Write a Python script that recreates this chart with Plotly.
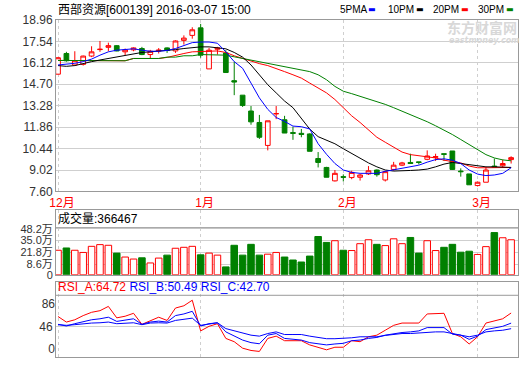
import plotly.graph_objects as go

# ---------------- data ----------------
idx = list(range(55))
month_pos = [0, 17, 34, 50]
month_labels = ['12月', '1月', '2月', '3月']

opens = [15.37, 16.74, 15.98, 16.02, 16.57, 17.00, 17.15, 17.26, 16.85, 16.98,
         17.07, 16.67, 16.90, 17.11, 16.91, 17.61, 17.94, 18.44, 15.72, 17.02,
         16.78, 14.94, 13.98, 12.93, 12.17, 10.65, 12.74, 12.35, 11.50, 11.45,
         11.41, 9.78, 9.19, 8.30, 8.58, 8.52, 8.54, 8.76, 9.02, 8.36,
         9.06, 9.34, 9.52, 9.56, 9.73, 9.86, 10.10, 10.28, 8.95, 8.76,
         7.99, 8.21, 9.28, 9.30, 9.71]
highs = [16.50, 16.85, 16.89, 16.60, 17.22, 17.57, 17.46, 17.30, 17.07, 17.15,
         17.18, 16.98, 17.10, 17.15, 17.61, 17.94, 18.48, 18.70, 17.11, 17.18,
         16.96, 16.20, 13.98, 13.26, 12.67, 12.28, 13.26, 12.61, 11.89, 11.74,
         11.45, 10.21, 9.23, 9.02, 8.73, 8.97, 8.76, 9.28, 9.06, 8.95,
         9.56, 9.56, 10.10, 9.56, 10.32, 10.10, 10.10, 10.28, 9.13, 8.76,
         8.26, 9.23, 9.78, 9.71, 9.93]
lows = [15.35, 16.20, 15.94, 15.94, 16.50, 16.85, 16.89, 16.89, 16.63, 16.89,
        16.63, 16.41, 16.74, 16.78, 16.78, 17.33, 17.72, 16.46, 15.72, 16.67,
        15.48, 13.98, 13.20, 12.02, 11.08, 10.32, 12.39, 11.47, 11.02, 11.19,
        10.26, 9.19, 8.54, 8.26, 8.26, 8.41, 8.32, 8.69, 8.58, 8.26,
        8.97, 9.28, 9.45, 9.39, 9.67, 9.62, 9.62, 9.02, 8.58, 8.04,
        7.93, 8.21, 9.23, 9.19, 9.45]
closes = [16.46, 16.26, 16.26, 16.57, 16.85, 17.02, 17.26, 16.91, 16.98, 17.11,
          16.67, 16.89, 16.96, 16.94, 17.57, 17.76, 18.31, 16.63, 16.96, 17.11,
          15.48, 14.85, 13.30, 12.21, 11.19, 12.28, 12.76, 11.47, 11.45, 11.38,
          10.26, 9.52, 8.54, 8.80, 8.54, 8.86, 8.69, 8.97, 8.71, 8.91,
          9.34, 9.49, 9.45, 9.52, 9.95, 9.91, 10.06, 9.06, 8.91, 8.04,
          8.21, 9.02, 9.23, 9.45, 9.84]

ma5 = [15.98, 16.02, 16.09, 16.20, 16.37, 16.63, 16.85, 16.96, 17.00, 17.05,
       16.96, 16.89, 16.89, 16.94, 17.07, 17.24, 17.46, 17.50, 17.50, 17.42,
       16.85, 16.20, 15.76, 14.78, 13.80, 13.04, 12.50, 12.24, 11.93, 11.89,
       11.74, 10.76, 10.06, 9.45, 9.02, 8.86, 8.80, 8.80, 8.80, 8.93,
       9.02, 9.12, 9.23, 9.34, 9.54, 9.71, 9.76, 9.67, 9.45, 9.02,
       8.75, 8.65, 8.69, 8.80, 9.17]
ma10 = [15.94, 15.89, 15.94, 16.09, 16.20, 16.31, 16.41, 16.50, 16.59, 16.72,
        16.81, 16.85, 16.89, 16.94, 17.00, 17.07, 17.13, 17.18, 17.18, 17.13,
        17.05, 16.81, 16.50, 15.98, 15.33, 14.67, 14.13, 13.59, 13.15, 12.43,
        11.73, 11.23, 10.97, 10.76, 10.43, 10.10, 9.78, 9.49, 9.23, 9.02,
        8.95, 8.95, 8.99, 9.02, 9.08, 9.23, 9.41, 9.52, 9.45, 9.39,
        9.28, 9.23, 9.23, 9.23, 9.19]
ma20 = [16.28, 16.28, 16.28, 16.28, 16.26, 16.26, 16.26, 16.26, 16.26, 16.41,
        16.41, 16.41, 16.41, 16.48, 16.63, 16.74, 16.85, 16.89, 16.89, 16.91,
        16.81, 16.59, 16.41, 16.20, 16.07, 15.94, 15.76, 15.54, 15.33, 15.11,
        14.78, 14.46, 14.13, 13.69, 13.15, 12.61, 12.17, 11.67, 11.19, 10.86,
        10.54, 10.21, 10.04, 9.95, 9.89, 9.82, 9.67, 9.56, 9.49, 9.28,
        9.17, 9.17, 9.17, 9.17, 9.19]
ma30 = [16.28, 16.28, 16.28, 16.28, 16.26, 16.26, 16.26, 16.26, 16.26, 16.41,
        16.41, 16.41, 16.41, 16.50, 16.50, 16.59, 16.59, 16.67, 16.67, 16.67,
        16.63, 16.52, 16.41, 16.28, 16.17, 16.09, 15.98, 15.87, 15.76, 15.65,
        15.54, 15.33, 15.00, 14.56, 14.24, 14.08, 13.91, 13.76, 13.59, 13.37,
        13.15, 12.93, 12.71, 12.48, 12.22, 11.95, 11.67, 11.37, 11.04, 10.69,
        10.36, 10.04, 9.82, 9.69, 9.63]

volume = [25.6, 28.0, 25.6, 23.3, 29.7, 31.5, 30.8, 22.6, 18.5, 16.4,
          17.7, 12.3, 17.4, 20.5, 27.7, 28.7, 29.7, 20.8, 22.6, 20.5,
          8.2, 30.8, 20.5, 31.8, 20.5, 21.5, 23.3, 18.5, 15.4, 13.3,
          19.5, 40.0, 33.8, 35.6, 25.6, 25.3, 32.5, 36.6, 31.8, 30.5,
          37.6, 32.5, 39.0, 22.6, 35.6, 25.3, 28.7, 31.8, 23.6, 24.6,
          21.2, 29.4, 44.1, 38.7, 36.6]  # 万

rsi_a = [59.8, 52.0, 55.2, 61.1, 65.7, 68.0, 74.0, 57.9, 60.2, 64.3,
         48.8, 54.3, 58.8, 54.3, 71.7, 74.9, 82.7, 39.6, 46.0, 49.7,
         29.0, 24.4, 15.3, 12.1, 10.7, 29.0, 32.2, 25.8, 25.8, 25.8,
         19.9, 16.6, 13.0, 16.6, 16.6, 25.8, 24.4, 31.3, 33.6, 40.5,
         47.4, 50.6, 50.6, 50.6, 63.4, 64.3, 64.3, 35.9, 31.3, 21.2,
         31.3, 50.6, 53.3, 56.6, 64.72]
rsi_b = [48.8, 46.5, 49.7, 52.9, 55.2, 56.6, 58.8, 52.9, 54.3, 56.6,
         48.8, 52.0, 53.3, 52.0, 61.1, 63.4, 67.1, 46.5, 49.7, 51.0,
         38.2, 32.2, 26.7, 23.1, 21.5, 33.6, 35.9, 29.0, 27.7, 26.7,
         23.1, 21.2, 19.9, 21.2, 22.1, 25.8, 26.7, 29.0, 30.4, 33.6,
         35.9, 37.3, 38.2, 39.6, 44.2, 44.2, 44.2, 35.0, 33.6, 27.7,
         32.2, 41.4, 44.2, 46.0, 50.49]
rsi_c = [48.3, 47.4, 48.3, 49.7, 50.6, 51.0, 52.0, 49.7, 50.6, 51.0,
         48.3, 50.6, 51.0, 50.6, 54.3, 55.6, 57.5, 47.4, 49.7, 51.0,
         42.8, 39.6, 35.9, 33.6, 32.2, 35.9, 38.2, 34.5, 34.5, 34.5,
         32.2, 30.4, 28.6, 28.6, 29.0, 29.9, 31.3, 31.3, 31.3, 33.2,
         35.0, 35.9, 35.9, 36.8, 38.2, 38.2, 38.2, 35.9, 34.5, 31.3,
         33.6, 38.2, 39.6, 40.5, 42.70]

price_ticks = [7.60, 9.02, 10.44, 11.86, 13.28, 14.70, 16.12, 17.54, 18.96]
vol_tick_pos = [0, 11.0, 23.3, 35.9, 48.2]   # where the reference draws its volume grid/labels
vol_labels = ['0', '8.6万', '21.8万', '35.0万', '48.2万']
rsi_grid_tick = [46]
rsi_label_pos = [77.2, 14.3]
rsi_label_text = ['86', '0']

ma_names = ['5PMA', '10PM', '20PM', '30PM']
title_text = '西部资源[600139] 2016-03-07 15:00'
vol_header = '成交量:366467'

# ---------------- styling ----------------
RED, GREEN, BLUE, BLACK = '#ff0000', '#008000', '#0000ff', '#000000'
MA_COLORS = [BLUE, BLACK, RED, GREEN]
GRID = '#cfcfcf'
FRAME = '#999999'
FONT = 'Liberation Sans, Noto Sans CJK SC, sans-serif'
NB = '\u00a0'

up = [c >= o for o, c in zip(opens, closes)]
vol_fill = ['#ffffff' if u else GREEN for u in up]
vol_line = [RED if u else GREEN for u in up]

fig = go.Figure()

fig.add_trace(go.Candlestick(
    x=idx, open=opens, high=highs, low=lows, close=closes,
    increasing=dict(line=dict(color=RED, width=1), fillcolor='#ffffff'),
    decreasing=dict(line=dict(color=GREEN, width=1), fillcolor=GREEN),
    whiskerwidth=0, xaxis='x', yaxis='y', hoverinfo='skip', showlegend=False))

for arr, col in [(ma20, RED), (ma30, GREEN), (ma10, BLACK), (ma5, BLUE)]:
    fig.add_trace(go.Scatter(x=idx, y=arr, mode='lines',
                             line=dict(color=col, width=1),
                             xaxis='x', yaxis='y', hoverinfo='skip'))

fig.add_trace(go.Bar(x=idx, y=volume, width=0.78,
                     marker=dict(color=vol_fill, line=dict(color=vol_line, width=1)),
                     xaxis='x2', yaxis='y2', hoverinfo='skip'))

fig.add_trace(go.Scatter(x=idx, y=rsi_a, mode='lines', line=dict(color=RED, width=1),
                         xaxis='x3', yaxis='y3', hoverinfo='skip'))
fig.add_trace(go.Scatter(x=idx, y=rsi_b, mode='lines', line=dict(color=BLUE, width=1),
                         xaxis='x3', yaxis='y3', hoverinfo='skip'))
fig.add_trace(go.Scatter(x=idx, y=rsi_c, mode='lines', line=dict(color=BLUE, width=1),
                         xaxis='x3', yaxis='y4', hoverinfo='skip'))

# pixel geometry: plot area spans y=20..364 px
TOP, BOT = 20, 364
H = BOT - TOP
LEFT, PW = 56, 463


def fy(px):
    return (BOT - px) / H


def fx(px):
    return (px - LEFT) / PW


xrange_ = [-0.24, 54.82]
xcommon = dict(range=xrange_, tickvals=month_pos, ticktext=month_labels,
               showgrid=True, gridcolor=GRID, griddash='3px,3px', gridwidth=1,
               showline=True, mirror=True, linecolor=FRAME, linewidth=1,
               zeroline=False, ticks='', fixedrange=True)
ycommon = dict(showline=True, mirror=True, linecolor=FRAME, linewidth=1,
               zeroline=False, ticks='', showgrid=True, gridcolor=GRID,
               tickfont=dict(family=FONT, size=12, color='#333333'), fixedrange=True)

fig.update_layout(
    width=520, height=365,
    margin=dict(l=LEFT, r=520 - LEFT - PW, t=TOP, b=365 - BOT),
    paper_bgcolor='#ffffff', plot_bgcolor='#ffffff',
    showlegend=False, boxgap=0.2,
    xaxis=dict(**xcommon, anchor='y', domain=[0, 1],
               tickfont=dict(family=FONT, size=12, color=RED),
               ticklabelshift=4, rangeslider=dict(visible=False)),
    xaxis2=dict(**xcommon, anchor='y2', matches='x', showticklabels=False),
    xaxis3=dict(**xcommon, anchor='y3', matches='x', showticklabels=False),
    yaxis=dict(**ycommon, domain=[fy(195), fy(20)], range=[7.60, 18.96],
               tickvals=price_ticks, ticktext=[f'{v:.2f}' for v in price_ticks]),
    yaxis2=dict(**{**ycommon, 'tickfont': dict(family=FONT, size=11, color='#333333')},
                domain=[fy(280), fy(214)], range=[0, 67.7],
                tickvals=vol_tick_pos, ticktext=vol_labels),
    yaxis3=dict(**ycommon, domain=[fy(364), fy(287)], range=[2.9, 108.9],
                tickvals=rsi_grid_tick, ticktext=[str(v) for v in rsi_grid_tick]),
    yaxis4=dict(overlaying='y3', anchor='x3', side='left', range=[2.9, 108.9],
                tickvals=rsi_label_pos, ticktext=rsi_label_text, showgrid=False,
                showline=False, zeroline=False, ticks='', fixedrange=True,
                tickfont=dict(family=FONT, size=12, color='#333333')),
)

# panel header separators
for py in (232, 301):
    fig.add_shape(type='line', xref='paper', yref='paper', x0=0, x1=1,
                  y0=fy(py), y1=fy(py), line=dict(color=FRAME, width=1))

rsi_html = (f'<span style="color:{RED}">RSI_A:{rsi_a[-1]:.2f}</span>{NB}'
            f'<span style="color:{BLUE}">RSI_B:{rsi_b[-1]:.2f}</span>{NB}'
            f'<span style="color:{BLUE}">RSI_C:{rsi_c[-1]:.2f}</span>')

ann = [
    dict(text=title_text, x=fx(57), y=fy(9), xanchor='left',
         font=dict(family=FONT, size=12, color='#000000')),
    dict(text='<b>东方财富网</b>', x=fx(447), y=fy(27), xanchor='left',
         font=dict(family='Noto Sans CJK SC', size=14, color='#d8d8d8')),
    dict(text='<b><i>eastmoney.com</i></b>', x=fx(449), y=fy(41), xanchor='left',
         font=dict(family='DejaVu Sans', size=8, color='#d8d8d8')),
    dict(text=vol_header, x=fx(57), y=fy(223), xanchor='left',
         font=dict(family=FONT, size=12, color='#000000')),
    dict(text=rsi_html, x=fx(57), y=fy(293), xanchor='left',
         font=dict(family=FONT, size=12, color=BLUE)),
]

# moving-average key: label then a short coloured bar, as in the reference header
key_label_x = [340, 388, 433, 478]
for name, col, lx in zip(ma_names, MA_COLORS, key_label_x):
    ann.append(dict(text=name, x=fx(lx), y=fy(9), xanchor='left',
                    font=dict(family=FONT, size=10, color='#000000')))
    ann.append(dict(text='<b>▬</b>', x=fx(lx + 33), y=fy(9), xanchor='center',
                    font=dict(family='DejaVu Sans', size=8, color=col)))

for a in ann:
    fig.add_annotation(xref='paper', yref='paper', yanchor='middle',
                       showarrow=False, borderpad=0, **a)

# remove the browser's default 8px body margin so the figure sits at the window origin
fig.write_html('out.html',
               config={'displayModeBar': False, 'staticPlot': True},
               post_script="document.body.style.margin='0';document.body.style.padding='0';")
